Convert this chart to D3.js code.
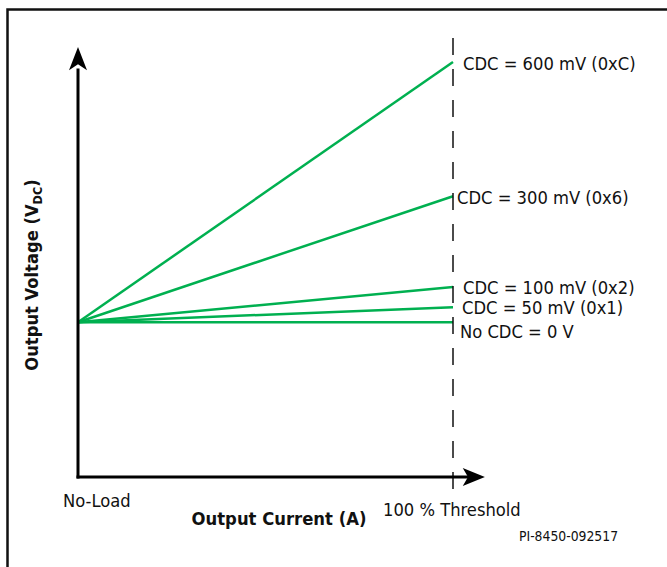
<!DOCTYPE html>
<html><head><meta charset="utf-8">
<script src="https://cdn.jsdelivr.net/npm/d3@7"></script>
<style>
html,body{margin:0;padding:0;background:#fff;}
svg{display:block;}
text{font-family:Tahoma,"DejaVu Sans Condensed","DejaVu Sans",sans-serif;fill:#111;}
</style></head>
<body>
<script>
// Data (relative output voltage, arbitrary units; x axis = % of threshold)
const seriesLabels = ["CDC = 600 mV (0xC)", "CDC = 300 mV (0x6)", "CDC = 100 mV (0x2)", "CDC = 50 mV (0x1)", "No CDC = 0 V"];
const startValues = [36.0, 36.0, 36.0, 36.0, 36.0];
const endValues = [96.5, 65.3, 44.2, 39.5, 36.0];
const xPoints = [0, 100];
const xTickLabels = ["No-Load", "100 % Threshold"];
const xTitle = "Output Current (A)";
const yTitle = "Output Voltage (V";
const ySub = "DC";
const figId = "PI-8450-092517";

const W = 667, H = 567;
const svg = d3.select("body").append("svg").attr("width", W).attr("height", H);

const x = d3.scaleLinear().domain([0, 100]).range([78, 453]);
const y = d3.scaleLinear().domain([0, 100]).range([477, 47]);

// frame
svg.append("rect").attr("x", 7.5).attr("y", 9.5).attr("width", 700).attr("height", 600)
  .attr("fill", "none").attr("stroke", "#111").attr("stroke-width", 2.5);

const green = "#00b050";

// series lines
seriesLabels.forEach((lab, i) => {
  svg.append("line")
    .attr("x1", x(xPoints[0])).attr("y1", y(startValues[i]))
    .attr("x2", x(xPoints[1])).attr("y2", y(endValues[i]))
    .attr("stroke", green).attr("stroke-width", 2.5);
});

// dashed threshold line
svg.append("line").attr("x1", x(100)).attr("x2", x(100)).attr("y1", 38).attr("y2", 492)
  .attr("stroke", "#111").attr("stroke-width", 1.5).attr("stroke-dasharray", "17,14");

// axes
const axisColor = "#000";
svg.append("line").attr("x1", x(0)).attr("x2", x(0)).attr("y1", y(0) + 1.5).attr("y2", y(95))
  .attr("stroke", axisColor).attr("stroke-width", 3);
svg.append("path").attr("d", `M${x(0)},${y(100)} L${x(0) - 9},${y(94.6)} L${x(0)},${y(96)} L${x(0) + 9},${y(94.6)} Z`)
  .attr("fill", axisColor);
svg.append("line").attr("x1", x(0) - 1.5).attr("x2", x(104)).attr("y1", y(0)).attr("y2", y(0))
  .attr("stroke", axisColor).attr("stroke-width", 3);
svg.append("path").attr("d", `M${x(108.5)},${y(0)} L${x(102.6)},${y(0) - 9} L${x(104)},${y(0)} L${x(102.6)},${y(0) + 9} Z`)
  .attr("fill", axisColor);

// series labels
const labelPos = [[463, 70], [457, 204], [463, 294], [462, 314], [460, 338]];
seriesLabels.forEach((lab, i) => {
  svg.append("text").attr("x", labelPos[i][0]).attr("y", labelPos[i][1])
    .attr("font-size", 18.2).text(lab);
});

// x tick labels
svg.append("text").attr("x", 63).attr("y", 507).attr("font-size", 18.2).text(xTickLabels[0]);
svg.append("text").attr("x", 383).attr("y", 516).attr("font-size", 18.2).text(xTickLabels[1]);

// x title
svg.append("text").attr("x", 279).attr("y", 525).attr("text-anchor", "middle")
  .attr("font-size", 18.3).attr("font-weight", "bold").text(xTitle);

// y title
const yt = svg.append("text").attr("transform", "translate(38,275) rotate(-90)")
  .attr("text-anchor", "middle").attr("font-size", 18.2).attr("font-weight", "bold");
yt.append("tspan").text(yTitle);
yt.append("tspan").attr("font-size", 12.5).attr("dy", 4).text(ySub);
yt.append("tspan").attr("dy", -4).text(")");

// figure id
svg.append("text").attr("x", 519).attr("y", 541).attr("font-size", 13.8).text(figId);
</script>
</body></html>
